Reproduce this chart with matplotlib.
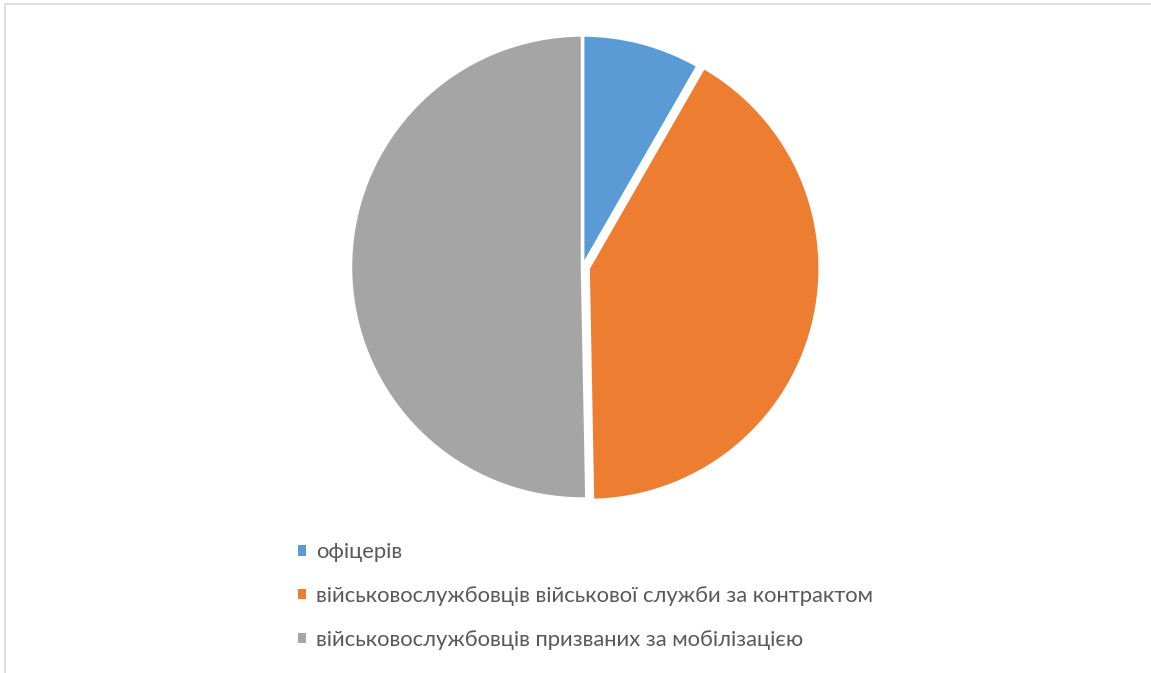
import matplotlib
matplotlib.use("Agg")
import matplotlib.pyplot as plt
from matplotlib.patches import Patch, Rectangle

labels = ["офіцерів",
          "військовослужбовців військової служби за контрактом",
          "військовослужбовців призваних за мобілізацією"]
values = [8.3, 41.4, 50.3]
colors = ["#5B9BD5", "#ED7D31", "#A5A5A5"]
explode = [0, 0.025, 0]

W, H = 1151, 673
fig = plt.figure(figsize=(W / 100, H / 100), dpi=100)

cx, cy, r = 582.5, 267, 232
lim = 1.15
ax = fig.add_axes([(cx - lim * r) / W, (H - cy - lim * r) / H, 2 * lim * r / W, 2 * lim * r / H])
wedges, _ = ax.pie(values, colors=colors, startangle=90, counterclock=False,
                   explode=explode, radius=1,
                   wedgeprops=dict(edgecolor="white", linewidth=2.5))
ax.set_xlim(-lim, lim)
ax.set_ylim(-lim, lim)
ax.set_aspect("equal")
ax.axis("off")

fs = 15.8
fpx = fs * 100 / 72
handles = [Patch(facecolor=c, edgecolor="none") for c in colors]
leg = fig.legend(handles, labels, loc="center left",
                 bbox_to_anchor=(298 / W, (H - 596) / H),
                 frameon=False, borderpad=0, borderaxespad=0,
                 handlelength=8 / fpx, handleheight=8 / fpx, handletextpad=10 / fpx,
                 labelspacing=1.08,
                 prop=dict(family="Lato", size=fs))
for t in leg.get_texts():
    t.set_color("#595959")

# chart area border
fig.add_artist(Rectangle((5 / W, -0.05), 1.1, (H - 4) / H + 0.05,
                         transform=fig.transFigure, fill=False,
                         edgecolor="#D9D9D9", linewidth=1.2, clip_on=False))

fig.savefig("out.png", dpi=100)
